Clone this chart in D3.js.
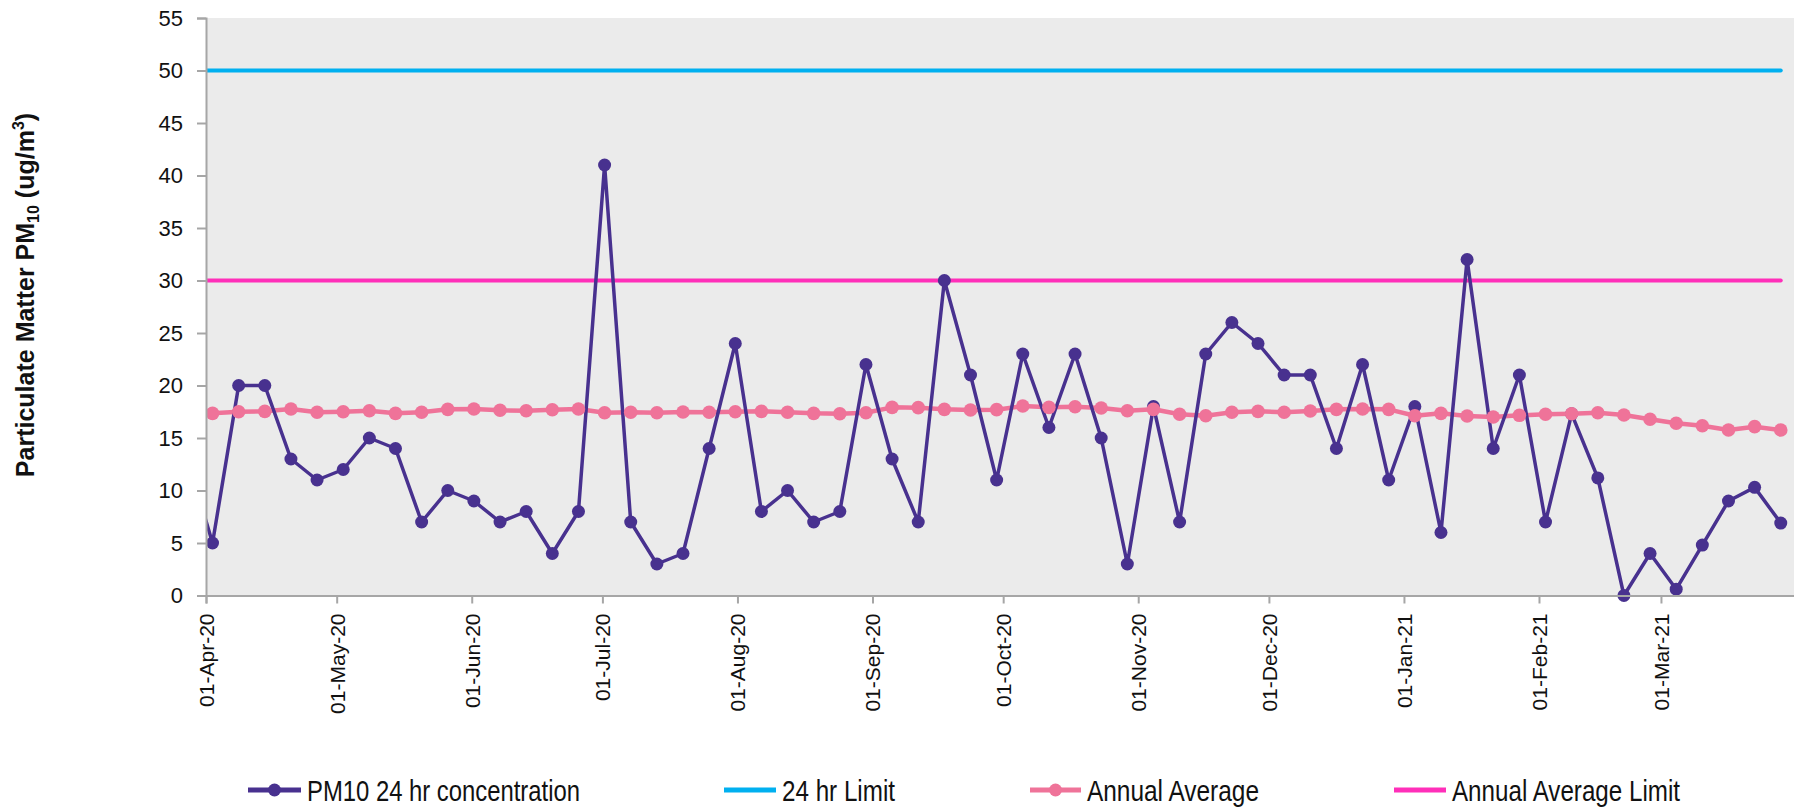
<!DOCTYPE html>
<html>
<head>
<meta charset="utf-8">
<script src="https://cdn.jsdelivr.net/npm/d3@7"></script>
<style>
  html, body { margin: 0; padding: 0; background: #ffffff; }
  svg { display: block; }
</style>
</head>
<body>
<svg id="chart" width="1794" height="807"></svg>
<script>
// ---- data ----
const sampleDates = [
  "2020-03-27",
  "2020-04-02","2020-04-08","2020-04-14","2020-04-20","2020-04-26",
  "2020-05-02","2020-05-08","2020-05-14","2020-05-20","2020-05-26",
  "2020-06-01","2020-06-07","2020-06-13","2020-06-19","2020-06-25",
  "2020-07-01","2020-07-07","2020-07-13","2020-07-19","2020-07-25","2020-07-31",
  "2020-08-06","2020-08-12","2020-08-18","2020-08-24","2020-08-30",
  "2020-09-05","2020-09-11","2020-09-17","2020-09-23","2020-09-29",
  "2020-10-05","2020-10-11","2020-10-17","2020-10-23","2020-10-29",
  "2020-11-04","2020-11-10","2020-11-16","2020-11-22","2020-11-28",
  "2020-12-04","2020-12-10","2020-12-16","2020-12-22","2020-12-28",
  "2021-01-03","2021-01-09","2021-01-15","2021-01-21","2021-01-27",
  "2021-02-02","2021-02-08","2021-02-14","2021-02-20","2021-02-26",
  "2021-03-04","2021-03-10","2021-03-16","2021-03-22","2021-03-28"
];
// PM10 24 hr concentration (first value is the sample before the chart window)
const pm10 = [
  13.4,
  5, 20, 20, 13, 11,
  12, 15, 14, 7, 10,
  9, 7, 8, 4, 8,
  41, 7, 3, 4, 14, 24,
  8, 10, 7, 8, 22,
  13, 7, 30, 21, 11,
  23, 16, 23, 15, 3,
  18, 7, 23, 26, 24,
  21, 21, 14, 22, 11,
  18, 6, 32, 14, 21,
  7, 17.3, 11.2, 0, 4,
  0.6, 4.8, 9, 10.3, 6.9
];
// Annual average (no value for the sample before the window)
const annualAvg = [
  null,
  17.35, 17.5, 17.54, 17.76, 17.45,
  17.5, 17.6, 17.35, 17.45, 17.73,
  17.76, 17.64, 17.6, 17.69, 17.76,
  17.41, 17.45, 17.41, 17.48, 17.45, 17.5,
  17.54, 17.45, 17.35, 17.31, 17.41,
  17.92, 17.89, 17.73, 17.67, 17.7,
  18.05, 17.92, 17.98, 17.86, 17.6,
  17.73, 17.26, 17.12, 17.45, 17.54,
  17.45, 17.57, 17.73, 17.76, 17.73,
  17.12, 17.35, 17.1, 17.0, 17.16,
  17.26, 17.31, 17.41, 17.19, 16.78,
  16.4, 16.17, 15.76, 16.08, 15.76
];
const limit24hr = 50;
const limitAnnual = 30;
const yTicks = [0, 5, 10, 15, 20, 25, 30, 35, 40, 45, 50, 55];
const legendLabels = ["PM10 24 hr concentration", "24 hr Limit", "Annual Average", "Annual Average Limit"];

// ---- styles ----
const colPM = "#48318f";
const colAvg = "#ef7399";
const col24 = "#00b0f0";
const colAnn = "#ff2fb9";
const axisCol = "#a6a6a6";
const fontFam = "'Liberation Sans', Arial, sans-serif";

const parse = d3.timeParse("%Y-%m-%d");
const dates = sampleDates.map(parse);

const svg = d3.select("#chart");
const plotLeft = 206, plotRight = 1794, plotTop = 18, plotBottom = 595.5;

const x = d3.scaleTime()
  .domain([parse("2020-04-01"), parse("2021-04-01")])
  .range([plotLeft, 1796]);
const y = d3.scaleLinear().domain([0, 55]).range([plotBottom, plotTop]);
// points sit in the middle of their day
const xd = d => x(d3.timeHour.offset(d, 12));

// background
svg.append("rect")
  .attr("x", plotLeft).attr("y", y(55))
  .attr("width", plotRight - plotLeft).attr("height", plotBottom - y(55))
  .attr("fill", "#ebebeb");

svg.append("defs").append("clipPath").attr("id", "clip")
  .append("rect")
  .attr("x", plotLeft).attr("y", 0)
  .attr("width", plotRight - plotLeft).attr("height", plotBottom + 20);

const g = svg.append("g").attr("clip-path", "url(#clip)");

// limit lines (over the sample dates)
[[limit24hr, col24], [limitAnnual, colAnn]].forEach(([v, c]) => {
  g.append("path")
    .datum(dates.map(d => ({ d, v })))
    .attr("d", d3.line().x(p => xd(p.d)).y(p => y(p.v)))
    .attr("fill", "none").attr("stroke", c).attr("stroke-width", 4)
    .attr("stroke-linecap", "round");
});

// annual average
const avgData = dates.map((d, i) => ({ d, v: annualAvg[i] })).filter(p => p.v !== null);
g.append("path")
  .datum(avgData)
  .attr("d", d3.line().x(p => xd(p.d)).y(p => y(p.v)))
  .attr("fill", "none").attr("stroke", colAvg).attr("stroke-width", 4.5)
  .attr("stroke-linejoin", "round");

// PM10 line
const pmData = dates.map((d, i) => ({ d, v: pm10[i] }));
g.append("path")
  .datum(pmData)
  .attr("d", d3.line().x(p => xd(p.d)).y(p => y(p.v)))
  .attr("fill", "none").attr("stroke", colPM).attr("stroke-width", 3.5)
  .attr("stroke-linejoin", "round");

g.selectAll("circle.pm").data(pmData).join("circle")
  .attr("class", "pm")
  .attr("cx", p => xd(p.d)).attr("cy", p => y(p.v)).attr("r", 6.5)
  .attr("fill", colPM);
g.selectAll("circle.avg").data(avgData).join("circle")
  .attr("class", "avg")
  .attr("cx", p => xd(p.d)).attr("cy", p => y(p.v)).attr("r", 6.8)
  .attr("fill", colAvg);

// axes
const yAxis = d3.axisLeft(y).tickValues(yTicks).tickSize(9).tickPadding(14).tickFormat(d3.format("d"));
const ya = svg.append("g").attr("transform", `translate(${plotLeft},0)`).call(yAxis);
ya.select(".domain").attr("stroke", axisCol).attr("stroke-width", 2);
ya.selectAll(".tick line").attr("stroke", axisCol).attr("stroke-width", 2);
ya.selectAll(".tick text").attr("font-family", fontFam).attr("font-size", 22).attr("fill", "#111");

const months = d3.timeMonth.range(parse("2020-04-01"), parse("2021-03-02"));
const xAxis = d3.axisBottom(x).tickValues(months).tickSize(8).tickFormat(d3.timeFormat("%d-%b-%y"));
const xa = svg.append("g").attr("transform", `translate(0,${plotBottom})`).call(xAxis);
xa.select(".domain").attr("stroke", axisCol).attr("stroke-width", 2);
xa.selectAll(".tick line").attr("stroke", axisCol).attr("stroke-width", 2);
xa.selectAll(".tick text")
  .attr("font-family", fontFam).attr("font-size", 21).attr("fill", "#111")
  .attr("text-anchor", "end")
  .attr("transform", "rotate(-90)")
  .attr("x", -18).attr("y", 0).attr("dy", "0.35em");

// y title
const yt = svg.append("text")
  .attr("transform", "translate(34,295) rotate(-90)")
  .attr("text-anchor", "middle")
  .attr("font-family", fontFam).attr("font-size", 25).attr("font-weight", "bold")
  .attr("fill", "#111");
yt.append("tspan").text("Particulate Matter PM");
yt.append("tspan").attr("font-size", 16).attr("dy", 5).text("10");
yt.append("tspan").attr("dy", -5).text(" (ug/m");
yt.append("tspan").attr("font-size", 16).attr("dy", -10).text("3");
yt.append("tspan").attr("dy", 10).text(")");

// legend
const legendItems = [
  { label: legendLabels[0], color: colPM, marker: true, x0: 248, x1: 301, tx: 307, tw: 273 },
  { label: legendLabels[1], color: col24, marker: false, x0: 724, x1: 776, tx: 782, tw: 113 },
  { label: legendLabels[2], color: colAvg, marker: true, x0: 1030, x1: 1081, tx: 1087, tw: 172 },
  { label: legendLabels[3], color: colAnn, marker: false, x0: 1394, x1: 1446, tx: 1452, tw: 228 }
];
const ly = 790;
const lg = svg.append("g");
legendItems.forEach(it => {
  lg.append("line").attr("x1", it.x0).attr("x2", it.x1).attr("y1", ly).attr("y2", ly)
    .attr("stroke", it.color).attr("stroke-width", 5);
  if (it.marker) {
    lg.append("circle").attr("cx", (it.x0 + it.x1) / 2).attr("cy", ly).attr("r", 6.5).attr("fill", it.color);
  }
  lg.append("text").attr("x", it.tx).attr("y", ly + 11)
    .attr("font-family", "'Liberation Sans Narrow', 'Liberation Sans', Arial, sans-serif")
    .attr("font-size", 30).attr("fill", "#111")
    .attr("textLength", it.tw).attr("lengthAdjust", "spacingAndGlyphs")
    .text(it.label);
});
</script>
</body>
</html>
